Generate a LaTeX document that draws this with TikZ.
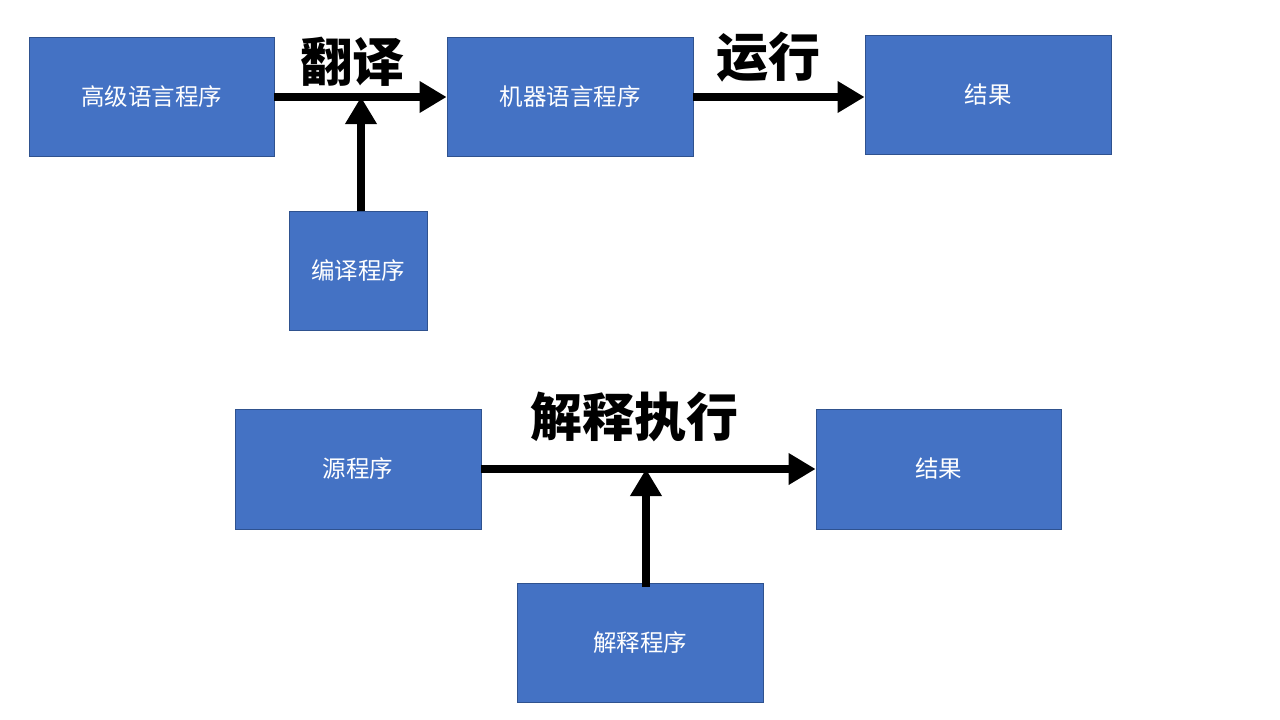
\documentclass[tikz,border=0pt]{standalone}
\usepackage{fontspec}
\newfontfamily\cjk{Noto Sans CJK SC}
\usetikzlibrary{arrows.meta}
\definecolor{boxfill}{HTML}{4472C4}
\definecolor{boxedge}{HTML}{2F528F}
\begin{document}
\begin{tikzpicture}[x=1pt,y=-1pt,
  blk/.style={draw=boxedge,line width=0.8pt,fill=boxfill,text=white,font=\cjk\fontsize{23.5}{28}\selectfont,inner sep=0pt},
  flow/.style={line width=8.5pt,-{Triangle[length=27pt,width=30pt]}},
  lbl/.style={font=\cjk\bfseries\fontsize{52}{60}\selectfont,inner sep=0pt}]
\useasboundingbox (0,0) rectangle (1280,720);
\node[blk,minimum width=245pt,minimum height=119pt] (A) at (151.5,96.5) {高级语言程序};
\node[blk,minimum width=246pt,minimum height=119pt] (B) at (570,96.5) {机器语言程序};
\node[blk,minimum width=246pt,minimum height=119pt] (C) at (988,94.5) {结果};
\node[blk,minimum width=138pt,minimum height=119pt] (D) at (358,270.5) {编译程序};
\node[blk,minimum width=246pt,minimum height=120pt] (E) at (358,469) {源程序};
\node[blk,minimum width=245pt,minimum height=120pt] (F) at (938.5,469) {结果};
\node[blk,minimum width=246pt,minimum height=119pt] (G) at (640,642.5) {解释程序};
\coordinate (dj) at (361,97);
\coordinate (ds) at (361,211);
\coordinate (gj) at (646,469);
\coordinate (gs) at (646,587);
\draw[flow] (A.east |- 0,97) -- (B.west |- 0,97);
\draw[flow] (B.east |- 0,97) -- (C.west |- 0,97);
\draw[flow] (ds) -- (dj);
\draw[flow] (E.east) -- (F.west);
\draw[flow] (gs) -- (gj);
\node[lbl] (t1) at (352,62) {翻译};
\node[lbl] (t2) at (768,57) {运行};
\node[lbl] (t3) at (634,417) {解释执行};
\end{tikzpicture}
\end{document}
